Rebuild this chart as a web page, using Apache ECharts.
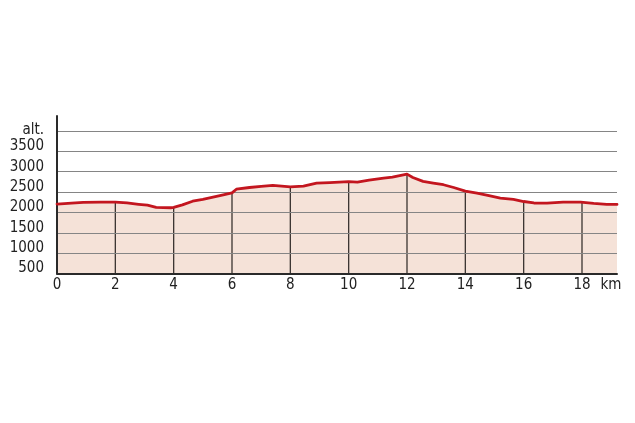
<!DOCTYPE html>
<html>
<head>
<meta charset="utf-8">
<script src="https://cdn.jsdelivr.net/npm/echarts@6/dist/echarts.min.js"></script>
<style>
html,body{margin:0;padding:0;background:#fff;}
#chart{width:635px;height:423px;}
</style>
</head>
<body>
<div id="chart"></div>
<script>
// Distance along the route (km)
var distanceKm = [0, 0.5, 0.9, 1.5, 2, 2.4, 2.8, 3.1, 3.4, 3.9, 4, 4.3, 4.65, 5.0, 5.35, 5.7, 6, 6.15, 6.6, 7.0, 7.4, 8, 8.45, 8.9, 9.35, 10, 10.3, 10.7, 11.2, 11.5, 12, 12.2, 12.55, 12.9, 13.25, 13.6, 14, 14.4, 14.85, 15.2, 15.65, 16, 16.35, 16.8, 17.35, 17.95, 18, 18.4, 18.85, 19.2];
// Altitude (m)
var altitudeM = [2206, 2228, 2245, 2252, 2252, 2232, 2200, 2180, 2125, 2115, 2125, 2185, 2275, 2320, 2375, 2432, 2480, 2570, 2612, 2640, 2662, 2625, 2645, 2718, 2733, 2758, 2745, 2792, 2842, 2866, 2940, 2858, 2762, 2720, 2680, 2612, 2525, 2475, 2408, 2352, 2318, 2268, 2232, 2230, 2254, 2254, 2252, 2220, 2198, 2196];
// Axis ticks
var xTicks = [0, 2, 4, 6, 8, 10, 12, 14, 16, 18];
var yTicks = [500, 1000, 1500, 2000, 2500, 3000, 3500];
var yTopLabel = 'alt.';
var xUnitLabel = 'km';

var profile = distanceKm.map(function (d, i) { return [d, altitudeM[i]]; });
// vertical guide lines at each even km mark, up to the profile
var guides = profile.filter(function (p) { return p[0] > 0 && xTicks.indexOf(p[0]) >= 0; });

var FONT = '"Liberation Sans Narrow", "DejaVu Sans Condensed", sans-serif';
var chart = echarts.init(document.getElementById('chart'), null, {renderer: 'canvas'});
chart.setOption({
  animation: false,
  backgroundColor: '#ffffff',
  grid: {left: 57, right: 18, top: 116, bottom: 149.5, containLabel: false, outerBoundsMode: 'none'},
  xAxis: {
    type: 'value', min: 0, max: 19.2, interval: 2, z: 3,
    axisLine: {show: true, onZero: false, lineStyle: {color: '#2a2a2a', width: 2}},
    axisTick: {show: false},
    splitLine: {show: false},
    axisLabel: {
      show: true, margin: 4, fontSize: 15, color: '#222', fontFamily: FONT,
      showMinLabel: true, showMaxLabel: true,
      formatter: function (v) {
        if (v > 19) return '{km|' + xUnitLabel + '}';
        return xTicks.indexOf(v) >= 0 ? String(v) : '';
      },
      rich: {km: {fontSize: 15, fontFamily: FONT, color: '#222', padding: [0, 12, 0, 0]}}
    }
  },
  yAxis: {
    type: 'value', min: 500, max: 4368, interval: 500, z: 3,
    axisLine: {show: true, onZero: false, lineStyle: {color: '#2a2a2a', width: 2}},
    axisTick: {show: false},
    splitLine: {show: true, showMinLine: false, showMaxLine: false, lineStyle: {color: '#858585', width: 1}},
    axisLabel: {
      show: true, margin: 13, fontSize: 15, color: '#222', fontFamily: FONT,
      verticalAlign: 'middle', padding: [0, 0, 10, 0],
      showMinLabel: true, showMaxLabel: true,
      formatter: function (v) {
        if (v === 4000) return '{a|' + yTopLabel + '}';
        return yTicks.indexOf(v) >= 0 ? String(v) : '';
      },
      rich: {a: {fontSize: 15, fontFamily: FONT, color: '#222', padding: [8, 0, 0, 0]}}
    }
  },
  series: [
    {
      type: 'line', data: profile, z: 1, symbol: 'none', silent: true,
      lineStyle: {width: 0, opacity: 0},
      areaStyle: {color: '#f5e2d8', opacity: 1, origin: 'start'}
    },
    {
      type: 'bar', data: guides, z: 2, barWidth: 1.3, silent: true, clip: true,
      itemStyle: {color: '#3a3330'}
    },
    {
      type: 'line', data: profile, z: 5, symbol: 'none', silent: true,
      lineStyle: {color: '#c3161f', width: 2.8, join: 'round', cap: 'round'}
    }
  ]
});
</script>
</body>
</html>
